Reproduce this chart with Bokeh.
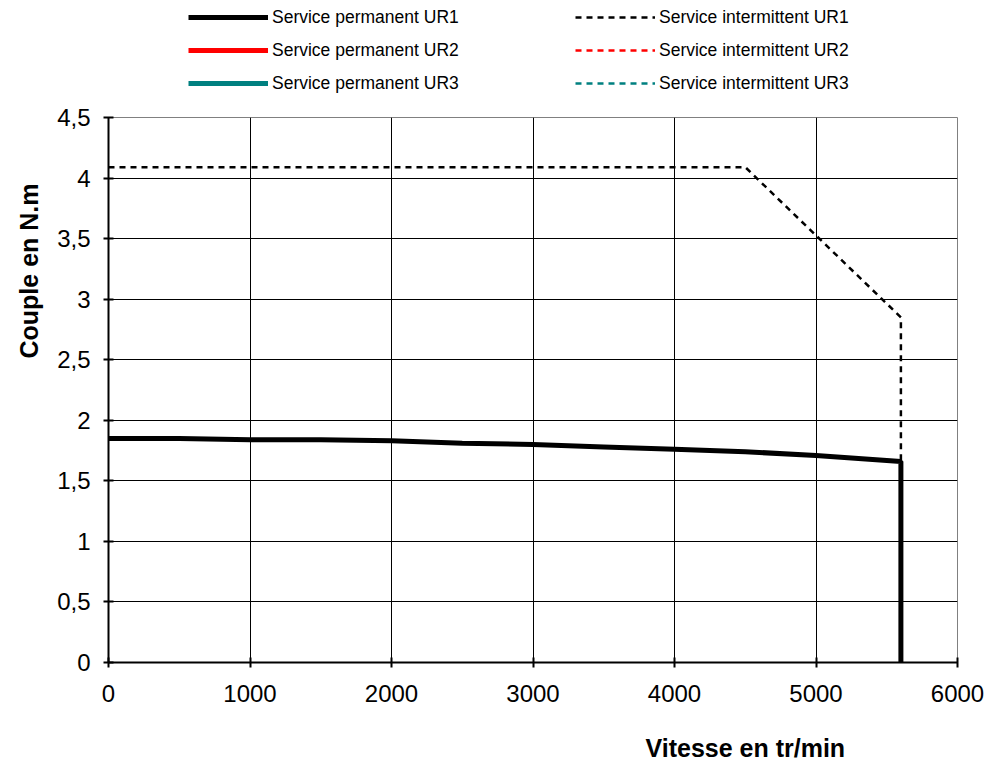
from bokeh.plotting import figure
from bokeh.models import (Range1d, FixedTicker, Legend, LegendItem, Title)
from bokeh.layouts import column
from bokeh.embed import file_html
from bokeh.resources import INLINE

# ---- data ----
speed_perm_ur1 = [0, 500, 1000, 1500, 2000, 2500, 3000, 3500, 4000, 4500, 5000, 5600, 5600]
torque_perm_ur1 = [1.85, 1.85, 1.84, 1.84, 1.83, 1.81, 1.80, 1.78, 1.76, 1.74, 1.71, 1.66, 0.0]
speed_int_ur1 = [0, 4500, 5600, 5600]
torque_int_ur1 = [4.09, 4.09, 2.85, 1.66]
speed_perm_ur2 = [0, 0]
torque_perm_ur2 = [0, 0]
speed_int_ur2 = [0, 0]
torque_int_ur2 = [0, 0]
speed_perm_ur3 = [0, 0]
torque_perm_ur3 = [0, 0]
speed_int_ur3 = [0, 0]
torque_int_ur3 = [0, 0]

x_ticks = [0, 1000, 2000, 3000, 4000, 5000, 6000]
y_ticks = [0, 0.5, 1, 1.5, 2, 2.5, 3, 3.5, 4, 4.5]
y_tick_labels = ["0", "0,5", "1", "1,5", "2", "2,5", "3", "3,5", "4", "4,5"]

labels_perm = ["Service permanent UR1", "Service permanent UR2", "Service permanent UR3"]
labels_int = ["Service intermittent UR1", "Service intermittent UR2", "Service intermittent UR3"]
colors = ["#000000", "#FF0000", "#008080"]

FONT = "Liberation Sans"
PERM_W = 5
INT_W = 2.5
INT_DASH = "6 5"

speeds_perm = [speed_perm_ur1, speed_perm_ur2, speed_perm_ur3]
torques_perm = [torque_perm_ur1, torque_perm_ur2, torque_perm_ur3]
speeds_int = [speed_int_ur1, speed_int_ur2, speed_int_ur3]
torques_int = [torque_int_ur1, torque_int_ur2, torque_int_ur3]

# ---- main chart ----
p = figure(frame_width=849, frame_height=545, output_backend="svg", toolbar_location=None,
           x_range=Range1d(0, 6000), y_range=Range1d(0, 4.5),
           min_border_left=108, min_border_top=14, min_border_right=30, min_border_bottom=10,
           background_fill_color="white", border_fill_color="white")
p.outline_line_color = "#808080"
p.outline_line_width = 1

for ax in (p.xaxis[0], p.yaxis[0]):
    ax.axis_line_color = "black"
    ax.axis_line_width = 2
    ax.major_tick_line_color = "black"
    ax.major_tick_line_width = 2
    ax.major_tick_in = 5
    ax.major_tick_out = 5
    ax.minor_tick_line_color = None
    ax.major_label_text_font = FONT
    ax.major_label_text_font_size = "24px"
    ax.major_label_text_color = "black"

p.xaxis[0].ticker = FixedTicker(ticks=x_ticks)
p.yaxis[0].ticker = FixedTicker(ticks=y_ticks)
p.yaxis[0].major_label_overrides = {t: l for t, l in zip(y_ticks, y_tick_labels)}
p.xaxis[0].major_label_standoff = 17
p.yaxis[0].major_label_standoff = 13

p.xgrid.ticker = FixedTicker(ticks=x_ticks)
p.ygrid.ticker = FixedTicker(ticks=y_ticks)
for g in (p.xgrid[0], p.ygrid[0]):
    g.grid_line_color = "black"
    g.grid_line_width = 1

for i in range(3):
    p.line(speeds_int[i], torques_int[i], line_color=colors[i], line_width=INT_W,
           line_dash=INT_DASH)
for i in range(3):
    p.line(speeds_perm[i], torques_perm[i], line_color=colors[i], line_width=PERM_W)

xt = Title(text="Vitesse en tr/min", align="left", offset=537, text_font=FONT,
           text_font_size="25px", text_font_style="bold", text_color="black", standoff=54)
p.add_layout(xt, "below")
yt = Title(text="Couple en N.m", align="right", offset=66, text_font=FONT,
           text_font_size="25px", text_font_style="bold", text_color="black",
           standoff=24)
p.add_layout(yt, "left")

# ---- legend strip above the chart ----
# Same series as the chart, with a view range that keeps them out of sight:
# only their legend samples show in this strip.
lg = figure(frame_width=987, frame_height=103, output_backend="svg", toolbar_location=None,
            x_axis_location=None, y_axis_location=None,
            min_border_left=0, min_border_right=0, min_border_top=0, min_border_bottom=0,
            x_range=Range1d(-20000, -10000), y_range=Range1d(-20, -10))
lg.outline_line_color = None
lg.xgrid.visible = False
lg.ygrid.visible = False

perm_r = [lg.line(speeds_perm[i], torques_perm[i], line_color=colors[i], line_width=PERM_W)
          for i in range(3)]
int_r = [lg.line(speeds_int[i], torques_int[i], line_color=colors[i], line_width=INT_W,
                 line_dash=INT_DASH) for i in range(3)]

items = [LegendItem(label=labels_perm[i], renderers=[perm_r[i]]) for i in range(3)] + \
        [LegendItem(label=labels_int[i], renderers=[int_r[i]]) for i in range(3)]
legend = Legend(items=items, location=(188, 6), orientation="vertical", nrows=3,
                glyph_width=80, glyph_height=28, label_standoff=4, label_width=298,
                label_height=20, spacing=5, padding=0, margin=0,
                label_text_font=FONT, label_text_font_size="17.5px",
                label_text_baseline="middle", label_text_color="black",
                border_line_alpha=0, background_fill_alpha=0)
lg.add_layout(legend, "center")

layout = column(lg, p, spacing=0)
open("out.html", "w").write(file_html(layout, INLINE))
